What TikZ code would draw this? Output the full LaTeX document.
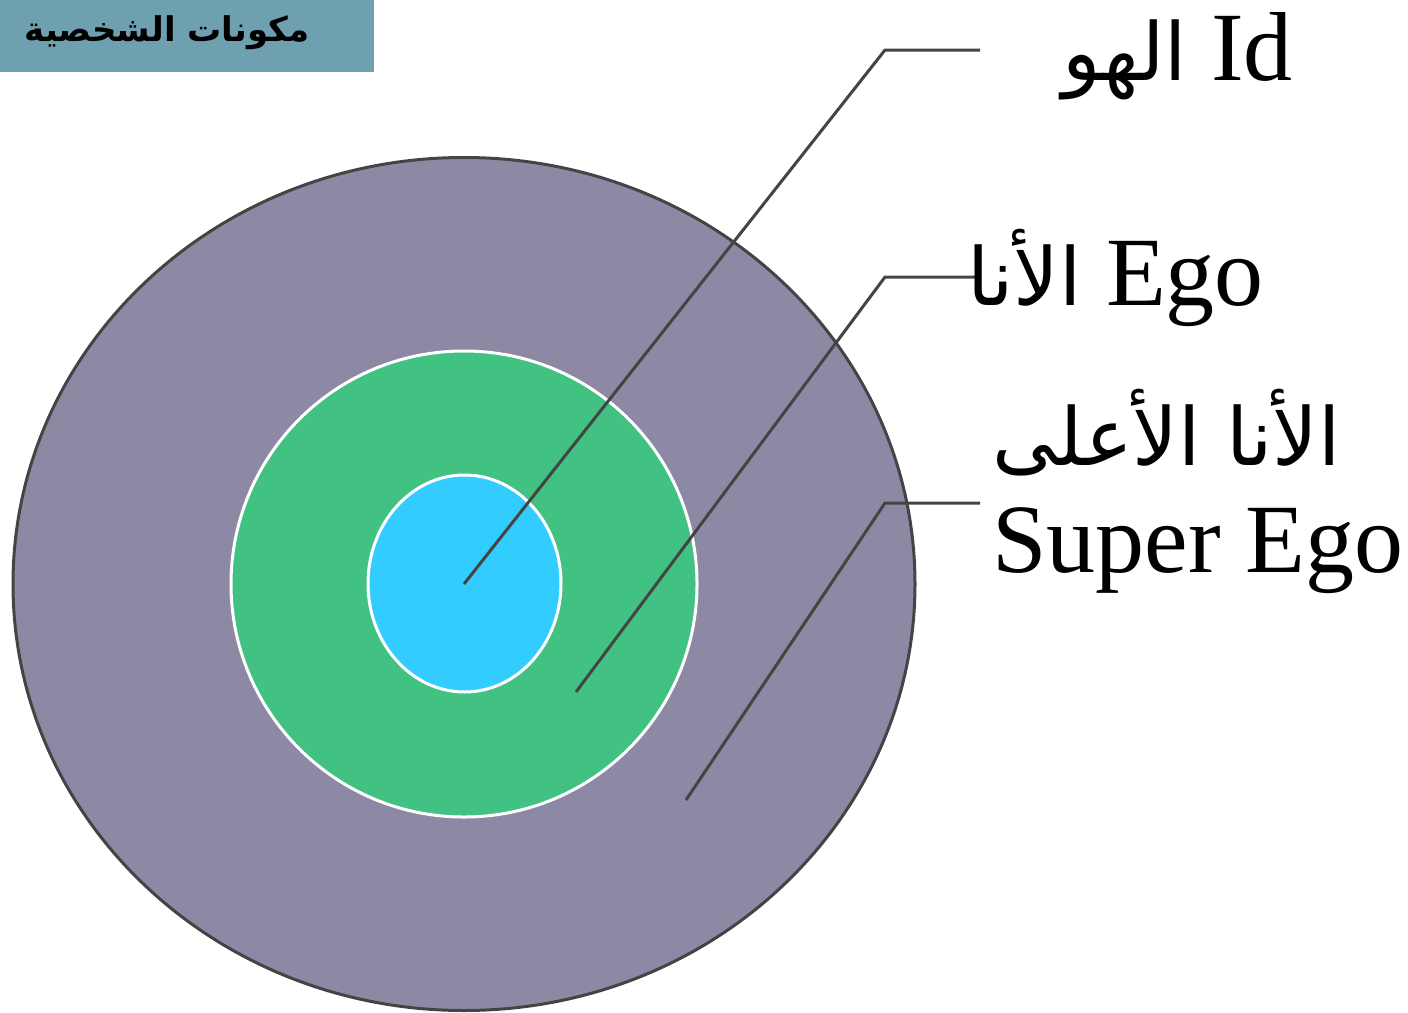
\documentclass[tikz,border=0pt]{standalone}
\usepackage{fontspec}
\setmainfont{Liberation Serif}
\newfontfamily\arabicfont[Script=Arabic]{DejaVu Sans}
\TeXXeTstate=1
\usetikzlibrary{shapes.geometric}
\definecolor{outercol}{HTML}{8D89A5}
\definecolor{greencol}{HTML}{41C282}
\definecolor{bluecol}{HTML}{33CCFF}
\definecolor{titlecol}{HTML}{6FA0B0}
\definecolor{linecol}{HTML}{444444}
\tikzset{
  ring/.style={ellipse, inner sep=0pt, outer sep=0pt},
  leader/.style={draw=linecol, line width=1.5pt},
  lbl/.style={inner sep=0pt, outer sep=0pt, anchor=base west, font=\fontsize{49}{58}\selectfont},
  arab/.style={}
}
\newcommand{\ar}[1]{{\arabicfont\fontsize{40}{48}\selectfont\beginR #1\endR}}
\begin{document}
\begin{tikzpicture}[x=0.5pt,y=-0.5pt]
\useasboundingbox (0,0) rectangle (1408,1012);
\node (titlebox) [fill=titlecol, minimum width=187pt, minimum height=36pt, inner sep=0pt, anchor=north west] at (0,0) {};
\node (title) [inner sep=0pt] at (167,33) {{\arabicfont\bfseries\fontsize{17}{20}\selectfont\beginR مكونات الشخصية\endR}};
\node (outer) [ring, minimum width=451pt, minimum height=426.5pt, fill=outercol, draw=linecol, line width=1.5pt] at (464,584) {};
\node (ego) [ring, minimum width=233pt, minimum height=233pt, fill=greencol, draw=white, line width=1.5pt] at (464,584) {};
\node (id) [ring, minimum width=96.5pt, minimum height=108.5pt, fill=bluecol, draw=white, line width=1.5pt] at (464.5,583.5) {};
\coordinate (idend) at (464,584);
\coordinate (idknee) at (885,50);
\coordinate (idtip) at (980,50);
\coordinate (egoend) at (576,692);
\coordinate (egoknee) at (885,277);
\coordinate (egotip) at (980,277);
\coordinate (seend) at (686,800);
\coordinate (seknee) at (885,503);
\coordinate (setip) at (980,503);
\draw[leader] (idend) -- (idknee) -- (idtip);
\draw[leader] (egoend) -- (egoknee) -- (egotip);
\draw[leader] (seend) -- (seknee) -- (setip);
\node (idlabel) [lbl] at (1062,80) {\ar{الهو} Id};
\node (egolabel) [lbl] at (967,305) {\ar{الأنا} Ego};
\node (selabel1) [lbl] at (992,465) {\ar{الأنا الأعلى}};
\node (selabel2) [lbl] at (992,572) {Super Ego};
\end{tikzpicture}
\end{document}
